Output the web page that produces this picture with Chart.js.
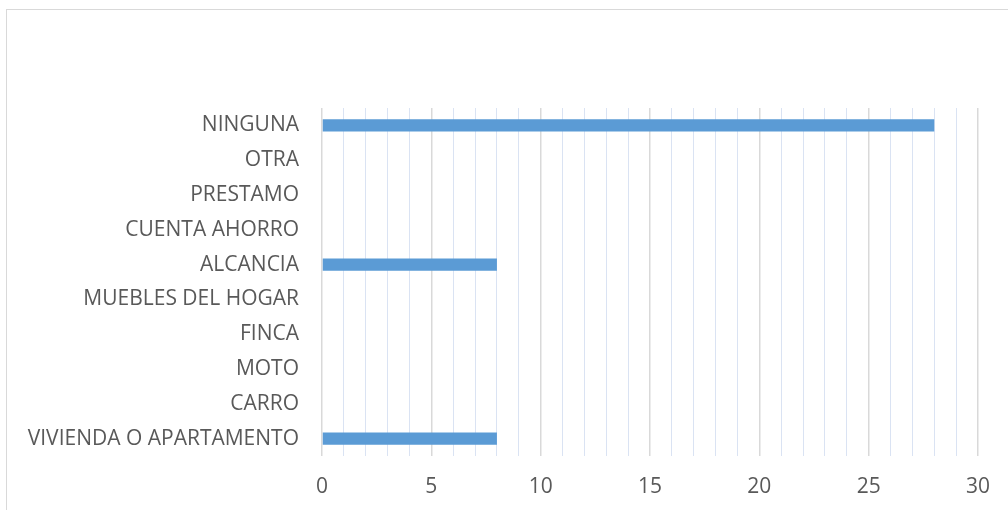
<!DOCTYPE html>
<html>
<head>
<meta charset="utf-8">
<script src="https://cdn.jsdelivr.net/npm/chart.js@4/dist/chart.umd.min.js"></script>
<style>
  html, body { margin: 0; padding: 0; background: #fff; }
  body { width: 1008px; height: 510px; position: relative; overflow: hidden; }
  #frame { position: absolute; left: 6px; top: 9px; width: 1100px; height: 600px; border: 1.5px solid #d9d9d9; box-sizing: border-box; }
  #wrap { position: absolute; left: 0; top: 0; width: 1008px; height: 510px; }
</style>
</head>
<body>
<div id="frame"></div>
<div id="wrap"><canvas id="c" width="1008" height="510"></canvas></div>
<script>
const categories = ["NINGUNA", "OTRA", "PRESTAMO", "CUENTA AHORRO", "ALCANCIA", "MUEBLES DEL HOGAR", "FINCA", "MOTO", "CARRO", "VIVIENDA O APARTAMENTO"];
const values = [28, 0, 0, 0, 8, 0, 0, 0, 0, 8];
const xMin = 0, xMax = 30, xMajorStep = 5, xMinorStep = 1;

const FONT = "'Open Sans', sans-serif";
new Chart(document.getElementById('c'), {
  type: 'bar',
  data: {
    labels: categories,
    datasets: [{
      data: values,
      backgroundColor: '#5b9bd5',
      borderWidth: 0,
      barPercentage: 0.7,
      categoryPercentage: 0.5
    }]
  },
  options: {
    indexAxis: 'y',
    responsive: false,
    animation: false,
    layout: { padding: { top: 108, right: 30, left: 0, bottom: 0 } },
    plugins: { legend: { display: false }, tooltip: { enabled: false } },
    scales: {
      x: {
        min: xMin, max: xMax,
        border: { display: false },
        grid: {
          drawTicks: false,
          color: ctx => (ctx.tick && ctx.tick.value % xMajorStep === 0) ? '#d9d9d9' : '#dae3f3',
          lineWidth: ctx => (ctx.tick && ctx.tick.value % xMajorStep === 0) ? 1.5 : 1
        },
        ticks: {
          stepSize: xMinorStep,
          autoSkip: false,
          maxRotation: 0,
          padding: 18,
          color: '#595959',
          font: { family: FONT, size: 21 },
          callback: v => (v % xMajorStep === 0 ? String(v) : '')
        },
        afterFit: s => { s.height = 54; }
      },
      y: {
        border: { display: false },
        grid: { display: false, drawTicks: false },
        ticks: {
          padding: 23,
          color: '#595959',
          font: { family: FONT, size: 21 }
        },
        afterFit: s => { s.width = 322; }
      }
    }
  }
});
</script>
</body>
</html>
